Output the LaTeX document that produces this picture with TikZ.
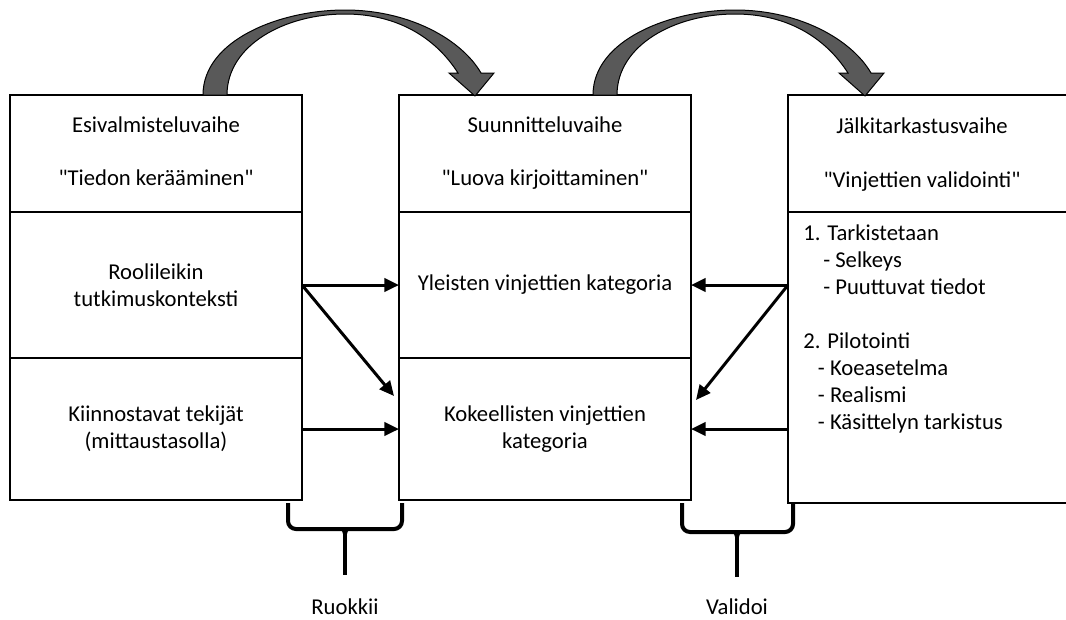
\documentclass[tikz,border=0pt]{standalone}
\usepackage{fontspec}
\setmainfont{Carlito}[Ligatures=TeXOff]
\usetikzlibrary{positioning,calc,arrows.meta}
\tikzstyle{every node}=[font=\fontsize{17}{20}\selectfont]
\tikzstyle{cell}=[draw, line width=1.5pt, inner sep=0pt, outer sep=0pt, align=center, minimum width=219pt]
\tikzstyle{feed}=[line width=2.25pt, -{Triangle[length=11pt,width=10pt]}]
\tikzstyle{bracket}=[line width=3pt, rounded corners=6pt]

\begin{document}
\begin{tikzpicture}[x=0.75pt, y=-0.75pt]
\useasboundingbox (0,0) rectangle (1066,619);
% Esivalmisteluvaihe
    \node[cell, minimum height=87.75pt] (esi) at (156,153.5) {\strut Esivalmisteluvaihe\\ \\ "Tiedon kerääminen"\strut};
    \node[cell, minimum height=109.5pt, below=0pt of esi] (rool) {Roolileikin\\tutkimuskonteksti};
    \node[cell, minimum height=106.5pt, below=0pt of rool] (kiin) {Kiinnostavat tekijät\\(mittaustasolla)};
% Suunnitteluvaihe
    \node[cell, minimum height=87.75pt] (suun) at (545,153.5) {\strut Suunnitteluvaihe\\ \\ "Luova kirjoittaminen"\strut};
    \node[cell, minimum height=109.5pt, below=0pt of suun] (ylei) {Yleisten vinjettien kategoria};
    \node[cell, minimum height=106.5pt, below=0pt of ylei] (koke) {Kokeellisten vinjettien\\kategoria};
% Jalkitarkastusvaihe
    \node[cell, minimum width=216pt, minimum height=87.75pt] (jalk) at (932,153.5) {};
    \node[cell, minimum width=216pt, minimum height=218.25pt, below=0pt of jalk] (tark) {};
    \node[align=center] (jalkotsikko) at (922,155) {\strut Jälkitarkastusvaihe\\ \\ "Vinjettien validointi"\strut};
    \node[anchor=north west, inner sep=0pt, align=left, font=\fontsize{17}{20.3}\selectfont] (tarklista) at ($(tark.north west)+(15,12)$)
        {1. Tarkistetaan\\ \hspace*{15pt}- Selkeys\\ \hspace*{15pt}- Puuttuvat tiedot\\[20.3pt]
         2. Pilotointi\\ \hspace*{11pt}- Koeasetelma\\ \hspace*{11pt}- Realismi\\ \hspace*{11pt}- Käsittelyn tarkistus};
% Feeding and validating arrows
    \draw[feed] (rool.east) -- (ylei.west);
    \draw[feed] (rool.east) -- ($(koke.north west)+(-5,38)$);
    \draw[feed] (kiin.east) -- (koke.west);
    \draw[feed] (tark.west |- ylei.east) -- (ylei.east);
    \draw[feed] (tark.west |- ylei.east) -- ($(koke.north east)+(5,42)$);
    \draw[feed] (tark.west |- koke.east) -- (koke.east);
% Phase transitions
    \foreach \dx in {0,390}
        \filldraw[fill=black!65, line width=0.75pt, shift={(\dx,0)}] (203,95) .. controls (203,40) and (280,10) .. (345,10)
            .. controls (410,10) and (462,40) .. (481,73) -- (494,73) -- (475,96) -- (449,73) -- (458,73)
            .. controls (437,40) and (400,14) .. (345,14) .. controls (285,14) and (227,45) .. (227,95) -- cycle;
% Brackets
    \draw[bracket] (288,503) -- (288,529) -- (402,529) -- (402,503);
    \draw[bracket] (345,529) -- (345,575);
    \draw[line width=2pt] (337,529) .. controls (344,529) .. (345,540) .. controls (346,529) .. (353,529);
    \draw[bracket] (682,503) -- (682,532) -- (793,532) -- (793,503);
    \draw[bracket] (737,532) -- (737,577);
    \draw[line width=2pt] (729,532) .. controls (736,532) .. (737,543) .. controls (738,532) .. (745,532);
    \node (ruokkii) at (345,607) {Ruokkii};
    \node (validoi) at (737,607) {Validoi};
\end{tikzpicture}
\end{document}
